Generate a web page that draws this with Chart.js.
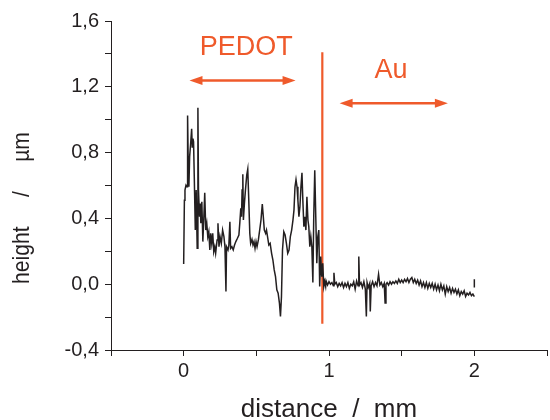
<!DOCTYPE html>
<html>
<head>
<meta charset="utf-8">
<script src="https://cdn.jsdelivr.net/npm/chart.js@4/dist/chart.umd.min.js"></script>
<style>
  body { margin: 0; background: #fff; }
  #wrap { width: 550px; height: 420px; }
</style>
</head>
<body>
<div id="wrap"><canvas id="profile"></canvas></div>
<script>
// profile: distance (mm) and height (µm)
const distance = [
  0.000, 0.005, 0.009, 0.016, 0.023, 0.027, 0.032, 0.036, 0.041, 0.048, 0.055, 0.059, 0.064, 0.068, 0.073, 0.080,
  0.086, 0.093, 0.098, 0.102, 0.109, 0.114, 0.118, 0.125, 0.132, 0.139, 0.145, 0.152, 0.159, 0.166, 0.173, 0.180,
  0.186, 0.193, 0.200, 0.207, 0.214, 0.220, 0.230, 0.236, 0.243, 0.250, 0.259, 0.268, 0.277, 0.284, 0.291, 0.295,
  0.305, 0.311, 0.318, 0.323, 0.332, 0.341, 0.350, 0.359, 0.370, 0.380, 0.386, 0.393, 0.398, 0.402, 0.407, 0.411,
  0.418, 0.425, 0.434, 0.441, 0.448, 0.455, 0.461, 0.470, 0.477, 0.484, 0.491, 0.498, 0.505, 0.514, 0.523, 0.532,
  0.541, 0.548, 0.555, 0.564, 0.570, 0.577, 0.586, 0.595, 0.605, 0.614, 0.623, 0.632, 0.641, 0.650, 0.659, 0.666,
  0.673, 0.680, 0.689, 0.698, 0.707, 0.716, 0.725, 0.734, 0.743, 0.752, 0.759, 0.766, 0.773, 0.780, 0.786, 0.793,
  0.800, 0.807, 0.814, 0.820, 0.827, 0.834, 0.841, 0.848, 0.855, 0.861, 0.868, 0.875, 0.882, 0.889, 0.895, 0.902,
  0.909, 0.916, 0.923, 0.930, 0.936, 0.943, 0.950, 0.957, 0.964, 0.970, 0.977,
  0.980, 0.990, 1.000, 1.010, 1.020, 1.030, 1.034, 1.040, 1.050, 1.060, 1.070, 1.080, 1.090, 1.100, 1.110, 1.120,
  1.130, 1.140, 1.150, 1.160, 1.170, 1.180, 1.190, 1.200, 1.205, 1.210, 1.220, 1.230, 1.240, 1.250, 1.257, 1.262,
  1.270, 1.280, 1.284, 1.290, 1.300, 1.310, 1.320, 1.330, 1.341, 1.350, 1.360, 1.370, 1.380, 1.386, 1.392, 1.400,
  1.410, 1.420, 1.430, 1.440, 1.450, 1.460, 1.470, 1.480, 1.490, 1.500, 1.510, 1.520, 1.530, 1.540, 1.550, 1.560,
  1.570, 1.580, 1.590, 1.600, 1.610, 1.620, 1.630, 1.640, 1.650, 1.660, 1.670, 1.680, 1.690, 1.700, 1.710, 1.720,
  1.730, 1.740, 1.750, 1.760, 1.770, 1.780, 1.790, 1.800, 1.810, 1.820, 1.830, 1.840, 1.850, 1.860, 1.870, 1.880,
  1.890, 1.900, 1.910, 1.920, 1.930, 1.940, 1.950, 1.960, 1.970, 1.980, 1.990, 2.000, 2.000, 2.000, 2.000
];
const height = [
  0.123, 0.511, 0.572, 0.602, 0.592, 1.026, 0.693, 0.592, 0.774, 0.855, 0.945, 0.834, 0.885, 0.865, 0.653, 0.329,
  0.572, 0.218, 1.073, 0.572, 0.410, 0.491, 0.370, 0.501, 0.259, 0.410, 0.556, 0.329, 0.370, 0.289, 0.319, 0.208,
  0.309, 0.248, 0.309, 0.198, 0.228, 0.188, 0.269, 0.370, 0.228, 0.289, 0.248, 0.329, 0.289, 0.228, -0.044, 0.228,
  0.208, 0.238, 0.380, 0.218, 0.228, 0.208, 0.238, 0.259, 0.279, 0.299, 0.370, 0.461, 0.410, 0.572, 0.669, 0.390,
  0.491, 0.572, 0.663, 0.699, 0.511, 0.309, 0.248, 0.273, 0.238, 0.259, 0.218, 0.259, 0.228, 0.269, 0.329, 0.390,
  0.487, 0.410, 0.329, 0.309, 0.329, 0.289, 0.238, 0.248, 0.188, 0.147, 0.087, 0.046, -0.034, -0.055, -0.115, -0.196,
  -0.075, 0.208, 0.319, 0.299, 0.248, 0.188, 0.208, 0.289, 0.329, 0.390, 0.450, 0.592, 0.636, 0.592, 0.511, 0.410,
  0.471, 0.592, 0.677, 0.511, 0.350, 0.410, 0.329, 0.531, 0.390, 0.350, 0.228, 0.289, 0.228, 0.010, 0.410, 0.693,
  0.410, 0.127, 0.289, 0.329, -0.014, 0.168, 0.046, 0.127, -0.014, 0.016, -0.014,
  0.020, -0.005, 0.015, 0.000, 0.010, -0.010, 0.070, 0.000, 0.010, -0.015, 0.005, -0.010, 0.010, -0.020, 0.005, -0.015,
  0.010, -0.025, 0.000, -0.010, 0.015, -0.030, 0.020, -0.010, 0.168, -0.005, 0.010, -0.020, 0.015, -0.030, -0.196, 0.010,
  -0.020, 0.005, -0.166, -0.010, 0.015, -0.015, 0.010, -0.010, 0.060, -0.005, 0.010, -0.015, 0.005, -0.115, 0.000, 0.010,
  -0.005, 0.015, 0.000, 0.015, 0.005, 0.020, 0.005, 0.030, 0.010, 0.025, 0.010, 0.030, 0.015, 0.035, 0.010, 0.030,
  0.040, 0.010, 0.030, 0.005, 0.025, -0.005, 0.020, -0.015, 0.010, -0.020, 0.010, -0.025, 0.005, -0.020, 0.005, -0.030,
  0.000, -0.035, -0.005, -0.040, 0.000, -0.035, -0.010, -0.060, -0.015, -0.045, -0.020, -0.055, -0.025, -0.050, -0.030, -0.060,
  -0.035, -0.070, -0.045, -0.060, -0.040, -0.075, -0.055, -0.065, -0.050, -0.070, -0.060, -0.075, null, 0.030, -0.020
];

// red divider between the two regions
const dividerX = [0.954, 0.954];
const dividerY = [-0.24, 1.41];

// region arrows [from, to, at height] and their labels [text, x, y]
const arrows = [
  [0.04, 0.77, 1.238],
  [1.073, 1.818, 1.10]
];
const regionLabels = [
  ['PEDOT', 0.43, 1.44],
  ['Au', 1.427, 1.30]
];

const RED = '#ef5a2b';
const INK = '#231f20';
const FONT = '"Liberation Sans", Arial, Helvetica, sans-serif';

const comma = v => v.toFixed(1).replace('.', ',');

const annotate = {
  id: 'annotate',
  afterDatasetsDraw(chart) {
    const { ctx, scales: { x, y } } = chart;
    ctx.save();
    ctx.strokeStyle = RED;
    ctx.fillStyle = RED;
    ctx.lineWidth = 2.6;
    arrows.forEach(([a, b, h]) => {
      const x1 = x.getPixelForValue(a), x2 = x.getPixelForValue(b), py = y.getPixelForValue(h);
      const head = 13, half = 4.5;
      ctx.beginPath();
      ctx.moveTo(x1 + head - 2, py);
      ctx.lineTo(x2 - head + 2, py);
      ctx.stroke();
      ctx.beginPath();
      ctx.moveTo(x1, py); ctx.lineTo(x1 + head, py - half); ctx.lineTo(x1 + head, py + half); ctx.closePath();
      ctx.moveTo(x2, py); ctx.lineTo(x2 - head, py - half); ctx.lineTo(x2 - head, py + half); ctx.closePath();
      ctx.fill();
    });
    ctx.font = '27px ' + FONT;
    ctx.textAlign = 'center';
    ctx.textBaseline = 'middle';
    regionLabels.forEach(([t, vx, vy]) => {
      ctx.fillText(t, x.getPixelForValue(vx), y.getPixelForValue(vy));
    });

    // axis titles
    ctx.fillStyle = INK;
    ctx.font = '26px ' + FONT;
    ctx.fillText('distance  /  mm', (chart.chartArea.left + chart.chartArea.right) / 2, 410);
    ctx.save();
    ctx.translate(22, 208);
    ctx.rotate(-Math.PI / 2);
    ctx.scale(0.88, 1);
    ctx.font = '24px ' + FONT;
    ctx.fillText('height     /     µm', 0, 0);
    ctx.restore();
    ctx.restore();
  }
};

new Chart(document.getElementById('profile'), {
  type: 'scatter',
  data: {
    datasets: [
      {
        data: distance.map((d, i) => ({ x: d, y: height[i] })),
        showLine: true,
        spanGaps: false,
        borderColor: INK,
        borderWidth: 1.5,
        pointRadius: 0,
        tension: 0
      },
      {
        data: dividerX.map((d, i) => ({ x: d, y: dividerY[i] })),
        showLine: true,
        borderColor: RED,
        borderWidth: 2.2,
        pointRadius: 0
      }
    ]
  },
  options: {
    responsive: true,
    maintainAspectRatio: false,
    animation: false,
    layout: { padding: { top: 21, right: 0, left: 0, bottom: 0 } },
    plugins: { legend: { display: false }, tooltip: { enabled: false } },
    scales: {
      x: {
        type: 'linear',
        min: -0.5,
        max: 2.5,
        afterFit: s => { s.height = 70; },
        border: { color: INK, width: 1 },
        grid: { drawOnChartArea: false, drawTicks: true, tickLength: 6, color: INK },
        ticks: {
          stepSize: 0.5,
          padding: 3,
          color: INK,
          font: { family: FONT, size: 20 },
          maxRotation: 0,
          autoSkip: false,
          callback: v => (Math.abs(v - Math.round(v)) < 1e-6 ? String(Math.round(v)) : '')
        }
      },
      y: {
        min: -0.4,
        max: 1.6,
        afterFit: s => { s.width = 111; },
        border: { color: INK, width: 1 },
        grid: { drawOnChartArea: false, drawTicks: true, tickLength: 6, color: INK },
        ticks: {
          stepSize: 0.2,
          padding: 6,
          color: INK,
          font: { family: FONT, size: 20 },
          autoSkip: false,
          callback: v => {
            const k = Math.round(v / 0.4);
            return Math.abs(k * 0.4 - v) < 1e-6 ? comma(k * 0.4) : '';
          }
        }
      }
    }
  },
  plugins: [annotate]
});
</script>
</body>
</html>
